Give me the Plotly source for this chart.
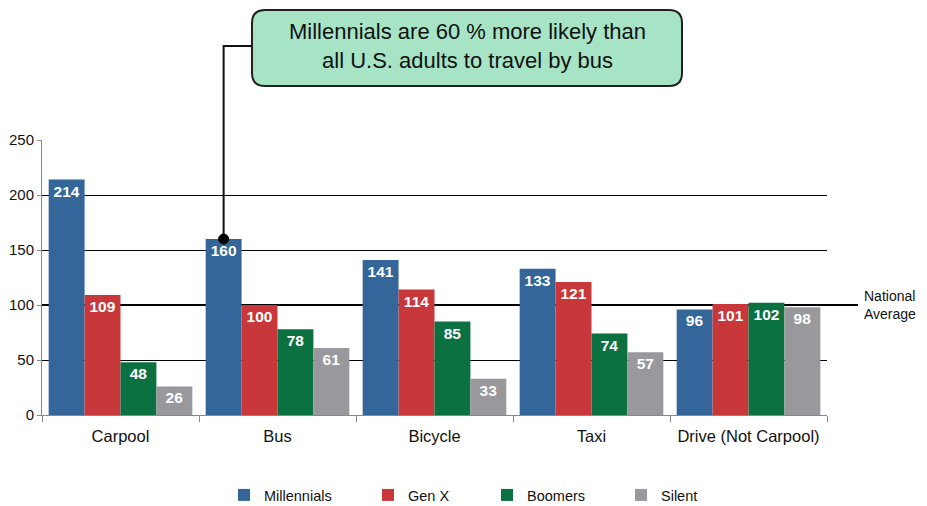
import plotly.graph_objects as go

# ---- data ----
categories = ["Carpool", "Bus", "Bicycle", "Taxi", "Drive (Not Carpool)"]
millennials = [214, 160, 141, 133, 96]
gen_x = [109, 100, 114, 121, 101]
boomers = [48, 78, 85, 74, 102]
silent = [26, 61, 33, 57, 98]
series_names = ["Millennials", "Gen X", "Boomers", "Silent"]
national_average = 100
y_ticks = [0, 50, 100, 150, 200, 250]
callout_text = "Millennials are 60 % more likely than<br>all U.S. adults to travel by bus"
avg_label = "National<br>Average"

# ---- style ----
colors = ["#35669a", "#c8383a", "#0b7141", "#98989d"]
FONT = "Liberation Sans, Arial, Helvetica, sans-serif"
OFF = 8  # page body margin
W, H = 927 - OFF, 506 - OFF
L, T = 42 - OFF, 140 - OFF
R = W - (827 - OFF)
B = H - (415 - OFF)
PW, PH = W - L - R, H - T - B
YMAX = 250
BARGAP = 0.085


def px_x(p):
    return (p - OFF - L) / PW


def px_y(p):
    return (H - B - (p - OFF)) / PH


fig = go.Figure()
series = [millennials, gen_x, boomers, silent]
for i, (name, vals, col) in enumerate(zip(series_names, series, colors)):
    fig.add_trace(go.Bar(
        x=categories, y=vals, name=name,
        marker=dict(color=col, line=dict(width=0)),
        text=vals, textposition="inside", insidetextanchor="end",
        textfont=dict(color="white", size=15.5, family=FONT, weight="bold"),
        legend="legend" if i == 0 else f"legend{i+1}",
        hoverinfo="skip",
    ))

# legend positions (symbol centre pixel x)
legend_px = [244, 388, 507, 641]
legend_layout = {}
for i, cx in enumerate(legend_px):
    key = "legend" if i == 0 else f"legend{i+1}"
    legend_layout[key] = dict(
        orientation="h", x=px_x(cx - 20), xanchor="left",
        y=px_y(495), yanchor="middle",
        bgcolor="rgba(0,0,0,0)", borderwidth=0,
        font=dict(size=14.5, family=FONT, color="#111"),
        itemclick=False, itemdoubleclick=False,
    )

shapes = []
# national average line (thicker, extends beyond plot)
shapes.append(dict(type="line", xref="paper", yref="y",
                   x0=0, x1=px_x(858), y0=national_average, y1=national_average,
                   line=dict(color="black", width=2), layer="below"))

# callout box (rounded)
bx0, bx1, by0, by1 = px_x(252), px_x(682), px_y(10), px_y(86)
rx, ry = 13 / PW, 13 / PH
box_path = (f"M{bx0+rx},{by0} L{bx1-rx},{by0} Q{bx1},{by0} {bx1},{by0-ry} "
            f"L{bx1},{by1+ry} Q{bx1},{by1} {bx1-rx},{by1} "
            f"L{bx0+rx},{by1} Q{bx0},{by1} {bx0},{by1+ry} "
            f"L{bx0},{by0-ry} Q{bx0},{by0} {bx0+rx},{by0} Z")
shapes.append(dict(type="path", xref="paper", yref="paper", path=box_path,
                   fillcolor="#a6e4c5", line=dict(color="#222", width=2), layer="above"))

# connector from bus millennials bar top to box
w = (1 - BARGAP) / len(series_names)
bus_idx = categories.index("Bus")
bar_cx = (bus_idx + 0.5 - 1.5 * w) / len(categories)
bar_top = millennials[bus_idx] / YMAX
conn_y = px_y(46)
shapes.append(dict(type="path", xref="paper", yref="paper",
                   path=f"M{bar_cx},{bar_top} L{bar_cx},{conn_y} L{bx0},{conn_y}",
                   line=dict(color="#111", width=2), layer="above"))
shapes.append(dict(type="circle", xref="paper", yref="paper",
                   xsizemode="pixel", ysizemode="pixel",
                   xanchor=bar_cx, yanchor=bar_top,
                   x0=-5, x1=5, y0=-5, y1=5,
                   fillcolor="black", line=dict(color="black", width=1), layer="above"))

annotations = [
    dict(xref="paper", yref="paper", x=px_x(467), y=px_y(46),
         text=callout_text, showarrow=False, xanchor="center", yanchor="middle",
         font=dict(size=22, family=FONT, color="#111")),
    dict(xref="paper", yref="y", x=px_x(862), y=national_average,
         text=avg_label, showarrow=False, xanchor="left", yanchor="middle",
         align="left", font=dict(size=14, family=FONT, color="#111")),
]

fig.update_layout(
    width=W, height=H, autosize=False,
    margin=dict(l=L, r=R, t=T, b=B, autoexpand=False),
    paper_bgcolor="white", plot_bgcolor="white",
    barmode="group", bargap=BARGAP, bargroupgap=0,
    font=dict(family=FONT, color="#111"),
    shapes=shapes, annotations=annotations,
    showlegend=True,
    **legend_layout,
)
fig.update_xaxes(
    type="category", showgrid=False, showline=True, linecolor="#888", linewidth=1,
    ticks="outside", tickson="boundaries", ticklen=6, tickcolor="#888",
    ticklabelstandoff=6,
    tickfont=dict(size=16.5, family=FONT, color="#111"),
    fixedrange=True, automargin=False,
)
fig.update_yaxes(
    range=[0, YMAX], tickvals=y_ticks, showgrid=True, gridcolor="black", gridwidth=1,
    zeroline=False, showline=True, linecolor="#888", linewidth=1,
    ticks="outside", ticklen=4, tickcolor="#888",
    tickfont=dict(size=15, family=FONT, color="#111"),
    fixedrange=True, automargin=False,
)

fig.write_html("out.html", config={"displayModeBar": False})
